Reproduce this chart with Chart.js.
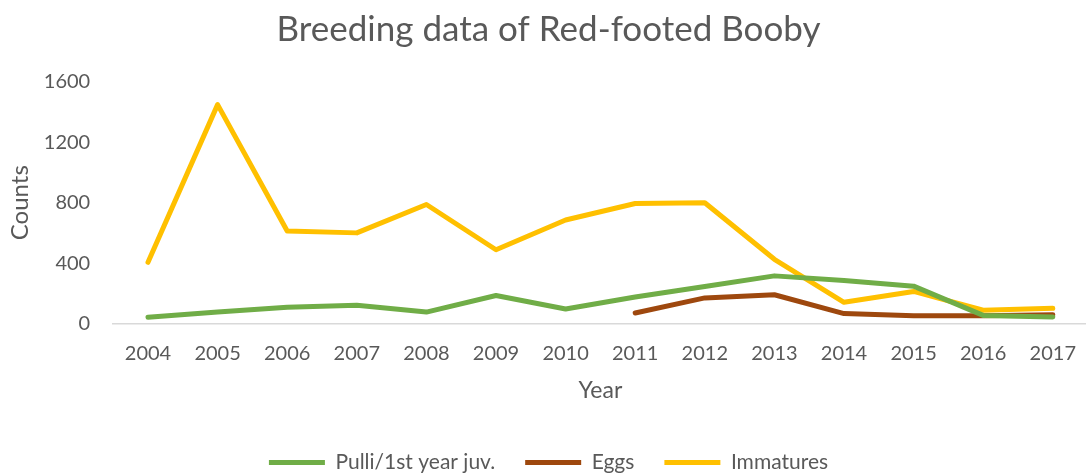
<!DOCTYPE html>
<html>
<head>
<meta charset="utf-8">
<script src="https://cdn.jsdelivr.net/npm/chart.js@4/dist/chart.umd.min.js"></script>
<style>
  html, body { margin:0; padding:0; background:#fff; overflow:hidden; }
  #wrap { width:1094px; height:476px; }
</style>
</head>
<body>
<div id="wrap"><canvas id="grafica" width="1094" height="476"></canvas></div>
<script>
// ---- data ----
const years = ['2004','2005','2006','2007','2008','2009','2010','2011','2012','2013','2014','2015','2016','2017'];
const pulli = [40, 75, 107, 120, 75, 185, 95, 175, 245, 315, 285, 247, 53, 42];
const eggs = [null, null, null, null, null, null, null, 69, 169, 190, 65, 51, 51, 58];
const immatures = [405, 1450, 612, 600, 788, 488, 685, 795, 800, 425, 140, 212, 87, 100];
const yTicks = [0, 400, 800, 1200, 1600];

const gris = '#595959';
const fuente = 'Lato, "Open Sans", sans-serif';

function serie(label, data, color){
  return {
    label, data,
    borderColor: color, backgroundColor: color,
    borderWidth: 5, borderCapStyle: 'round', borderJoinStyle: 'round',
    pointRadius: 0, pointHoverRadius: 0, pointStyle: 'line',
    tension: 0, fill: false
  };
}

// leyenda un poco mas baja que la altura por defecto
const ajusteLeyenda = {
  id: 'ajusteLeyenda',
  beforeInit(chart){
    const fit = chart.legend.fit;
    chart.legend.fit = function(){ fit.call(this); this.height -= 7; };
  }
};

new Chart(document.getElementById('grafica'), {
  type: 'line',
  data: {
    labels: years,
    datasets: [
      serie('Pulli/1st year juv.', pulli, '#70AD47'),
      serie('Eggs', eggs, '#9E480E'),
      serie('Immatures', immatures, '#FFC000')
    ]
  },
  plugins: [ajusteLeyenda],
  options: {
    responsive: false,
    animation: false,
    devicePixelRatio: 1,
    layout: { padding: { left: 0, right: -3, top: 0, bottom: 0 } },
    plugins: {
      title: {
        display: true,
        text: 'Breeding data of Red-footed Booby',
        color: gris,
        font: { family: fuente, size: 35, weight: 'normal' },
        padding: { top: 9, bottom: 31 }
      },
      legend: {
        position: 'bottom',
        labels: {
          usePointStyle: true,
          pointStyleWidth: 56,
          color: gris,
          font: { family: fuente, size: 21 },
          padding: 30
        }
      },
      tooltip: { enabled: false }
    },
    scales: {
      x: {
        offset: true,
        grid: { display: false, drawTicks: false },
        border: { display: true, color: '#d9d9d9', width: 1.5 },
        ticks: { color: gris, font: { family: fuente, size: 20 }, padding: 18, maxRotation: 0 },
        title: {
          display: true, text: 'Year', color: gris,
          font: { family: fuente, size: 23 }, padding: { top: -7, bottom: 18 }
        }
      },
      y: {
        min: 0, max: 1600,
        afterBuildTicks: s => { s.ticks = yTicks.map(v => ({ value: v })); },
        afterFit: s => { s.width -= 23; },
        grid: { display: false, drawTicks: false },
        border: { display: false },
        ticks: { color: gris, font: { family: fuente, size: 20 }, padding: 23, callback: v => String(v) },
        title: {
          display: true, text: 'Counts', color: gris,
          font: { family: fuente, size: 24 }, padding: { top: 6, bottom: 9 }
        }
      }
    }
  }
});
</script>
</body>
</html>
